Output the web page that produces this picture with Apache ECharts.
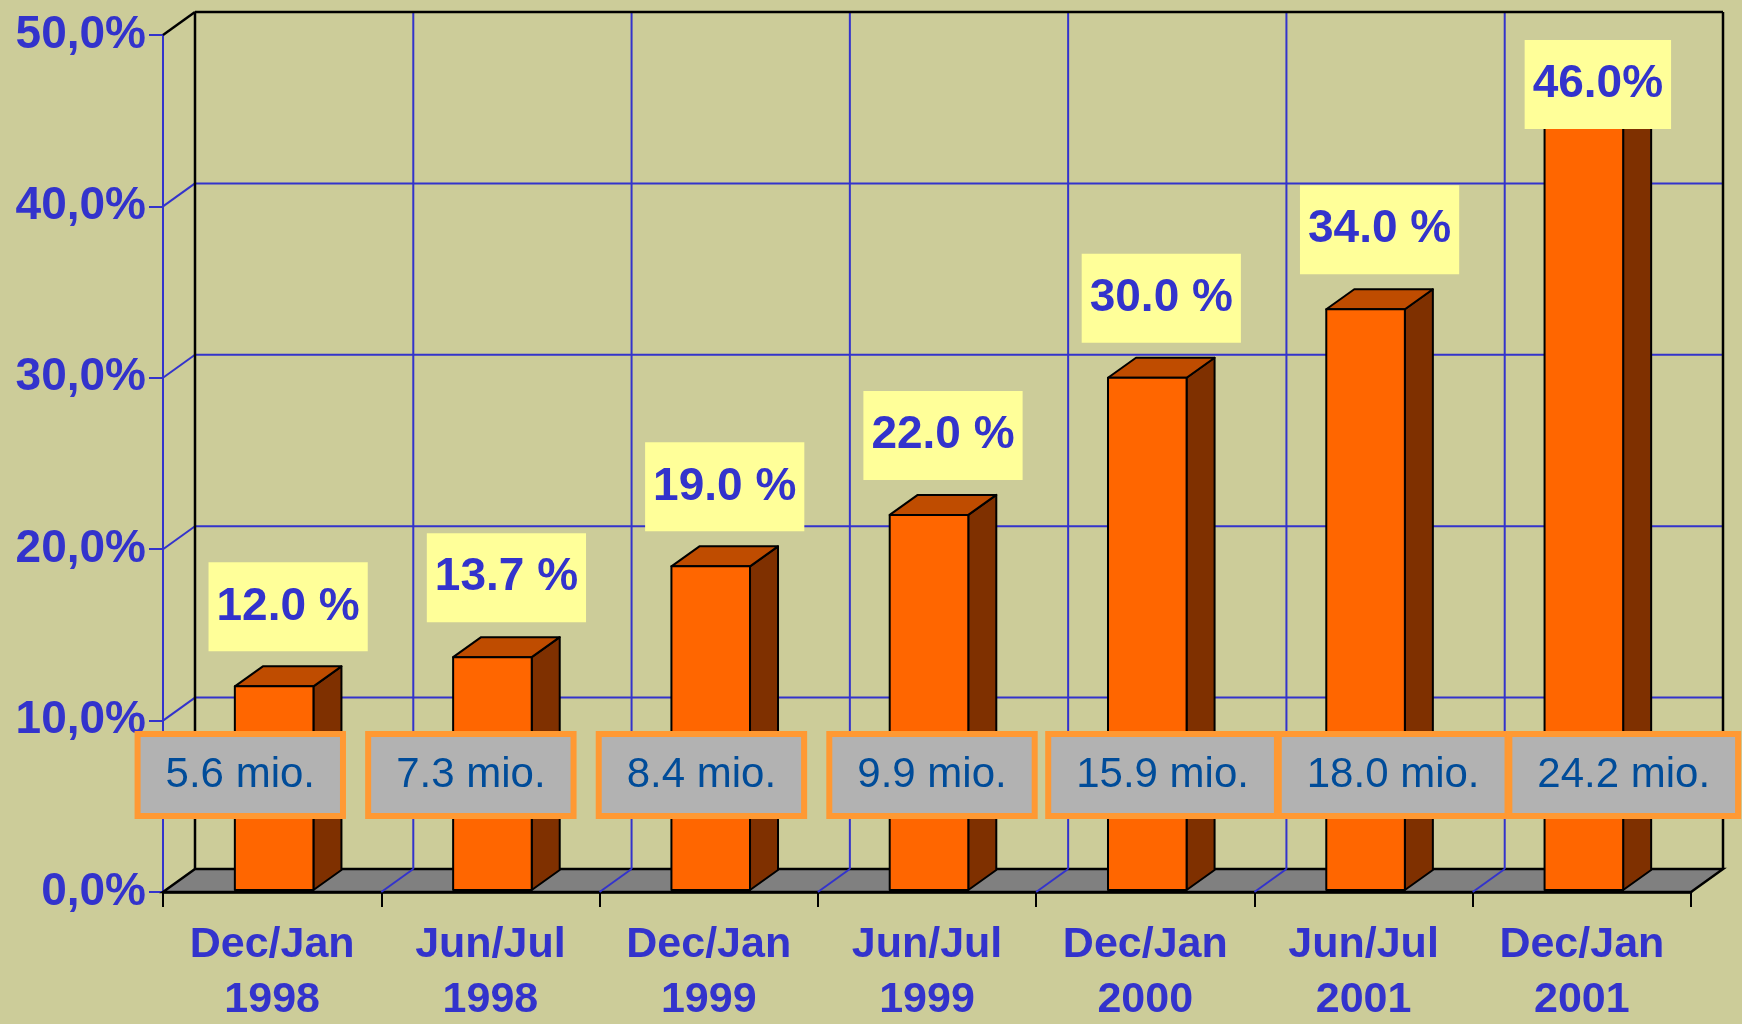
<!DOCTYPE html>
<html>
<head>
<meta charset="utf-8">
<title>Internet users share</title>
<script src="https://cdn.jsdelivr.net/npm/echarts@6/dist/echarts.min.js"></script>
<style>
  html, body { margin: 0; padding: 0; background: #CCCC99; }
  #chart { width: 1742px; height: 1024px; }
</style>
</head>
<body>
<div id="chart"></div>
<script>
// Datos del gráfico
const periods = ['Dec/Jan\n1998', 'Jun/Jul\n1998', 'Dec/Jan\n1999', 'Jun/Jul\n1999', 'Dec/Jan\n2000', 'Jun/Jul\n2001', 'Dec/Jan\n2001'];
const sharePct = [12.0, 13.7, 19.0, 22.0, 30.0, 34.0, 46.0];
const shareLabels = ['12.0 %', '13.7 %', '19.0 %', '22.0 %', '30.0 %', '34.0 %', '46.0%'];
const usersMio = [5.6, 7.3, 8.4, 9.9, 15.9, 18.0, 24.2];
const yTicks = [0, 10, 20, 30, 40, 50];

document.addEventListener("DOMContentLoaded", () => {
  const chart = echarts.init(document.getElementById("chart"));

  const BLUE = '#3333CC';
  const FONT = '"Liberation Sans", Arial, sans-serif';
  // profundidad de las paredes y de las barras (efecto 3D)
  const WALL_DX = 32, WALL_DY = -23;
  const BAR_DX = 28, BAR_DY = -20;

  const line = (x1, y1, x2, y2, color, w) => ({
    type: 'line',
    shape: { x1, y1, x2, y2 },
    style: { stroke: color, lineWidth: w || 2 }
  });

  // Suelo, paredes y cuadrícula
  function renderFrame(params, api) {
    const bw = api.size([1, 0])[0];
    const n = periods.length;
    const left = api.coord([0, 0])[0] - bw / 2;
    const right = api.coord([n - 1, 0])[0] + bw / 2;
    const yOf = v => api.coord([0, v])[1];
    const y0 = yOf(yTicks[0]);
    const yTop = yOf(yTicks[yTicks.length - 1]);
    const children = [];

    children.push({
      type: 'polygon',
      shape: { points: [[left, y0], [right, y0], [right + WALL_DX, y0 + WALL_DY], [left + WALL_DX, y0 + WALL_DY]] },
      style: { fill: '#808080', stroke: '#000', lineWidth: 2.5 }
    });

    yTicks.slice(1, -1).forEach(v => {
      const y = yOf(v);
      children.push(line(left, y, left + WALL_DX, y + WALL_DY, BLUE));
      children.push(line(left + WALL_DX, y + WALL_DY, right + WALL_DX, y + WALL_DY, BLUE));
    });

    for (let i = 1; i < n; i++) {
      const x = left + i * bw;
      children.push(line(x, y0, x + WALL_DX, y0 + WALL_DY, BLUE));
      children.push(line(x + WALL_DX, y0 + WALL_DY, x + WALL_DX, yTop + WALL_DY, BLUE));
    }

    children.push(line(left, yTop, left + WALL_DX, yTop + WALL_DY, '#000', 2.5));
    children.push(line(left + WALL_DX, yTop + WALL_DY, right + WALL_DX, yTop + WALL_DY, '#000', 2.5));
    children.push(line(left + WALL_DX, yTop + WALL_DY, left + WALL_DX, y0 + WALL_DY, '#000', 2.5));
    children.push(line(right + WALL_DX, yTop + WALL_DY, right + WALL_DX, y0 + WALL_DY, '#000', 2.5));

    return { type: 'group', children };
  }

  // Barras 3D
  function renderBar(params, api) {
    const i = api.value(0);
    const base = api.coord([i, 0]);
    const top = api.coord([i, api.value(1)]);
    const w = api.size([1, 0])[0] * 0.36;
    const x0 = base[0] - w / 2 + 2;
    const x1 = x0 + w;
    const yb = base[1] - 2;
    const yt = top[1];
    const st = { stroke: '#000', lineWidth: 2, lineJoin: 'round' };
    return {
      type: 'group',
      children: [
        { type: 'polygon', shape: { points: [[x1, yt], [x1 + BAR_DX, yt + BAR_DY], [x1 + BAR_DX, yb + BAR_DY], [x1, yb]] }, style: Object.assign({ fill: '#7F3000' }, st) },
        { type: 'polygon', shape: { points: [[x0, yt], [x0 + BAR_DX, yt + BAR_DY], [x1 + BAR_DX, yt + BAR_DY], [x1, yt]] }, style: Object.assign({ fill: '#BF4C00' }, st) },
        { type: 'rect', shape: { x: x0, y: yt, width: w, height: yb - yt }, style: Object.assign({ fill: '#FF6600' }, st) }
      ]
    };
  }

  // Etiquetas amarillas con el porcentaje
  function renderShareLabel(params, api) {
    const i = api.value(0);
    const top = api.coord([i, api.value(1)]);
    const boxH = 89;
    let bottom = top[1] + BAR_DY - 15;
    bottom = Math.max(bottom, params.coordSys.y + 5 + boxH);
    return {
      type: 'text',
      x: top[0] + 2 + BAR_DX / 2,
      y: bottom,
      style: {
        text: shareLabels[i],
        font: 'bold 46px ' + FONT,
        fill: BLUE,
        align: 'center',
        verticalAlign: 'bottom',
        backgroundColor: '#FFFF99',
        padding: [20, 8],
        lineHeight: 49
      }
    };
  }

  // Cajas grises con los millones de usuarios
  function renderUsers(params, api) {
    const i = api.value(0);
    const p = api.coord([i, 0]);
    return {
      type: 'text',
      x: p[0],
      y: p[1] - 117,
      style: {
        text: api.value(1).toFixed(1) + ' mio.',
        font: '42px ' + FONT,
        fill: '#004C99',
        align: 'center',
        verticalAlign: 'middle',
        backgroundColor: '#B2B2B2',
        borderColor: '#FF9933',
        borderWidth: 6,
        padding: [15, 25],
        lineHeight: 46
      }
    };
  }

  const option = {
    backgroundColor: '#CCCC99',
    animation: false,
    grid: [
      { left: 163, right: 51, top: 35, bottom: 132, outerBoundsMode: 'none' },
      { left: 125, right: 3, top: 35, bottom: 132, outerBoundsMode: 'none' }
    ],
    xAxis: [{
      type: 'category',
      gridIndex: 0,
      data: periods,
      axisLine: { show: true, lineStyle: { color: '#000', width: 2.5 } },
      axisTick: { show: true, length: 15, lineStyle: { color: '#000', width: 2 } },
      axisLabel: {
        color: BLUE, fontSize: 43, fontWeight: 'bold', fontFamily: FONT,
        lineHeight: 55, margin: 26, interval: 0
      },
      splitLine: { show: false }
    }, {
      type: 'category',
      gridIndex: 1,
      data: periods,
      show: false
    }],
    yAxis: [{
      type: 'value',
      gridIndex: 0,
      min: yTicks[0],
      max: yTicks[yTicks.length - 1],
      interval: yTicks[1] - yTicks[0],
      axisLine: { show: true, lineStyle: { color: BLUE, width: 2 } },
      axisTick: { show: true, length: 14, lineStyle: { color: BLUE, width: 2 } },
      axisLabel: {
        color: BLUE, fontSize: 46, fontWeight: 'bold', fontFamily: FONT, margin: 17,
        formatter: v => v.toFixed(1).replace('.', ',') + '%'
      },
      splitLine: { show: false }
    }, {
      type: 'value',
      gridIndex: 1,
      min: yTicks[0],
      max: yTicks[yTicks.length - 1],
      show: false
    }],
    series: [
      { type: 'custom', name: 'frame', z: 1, xAxisIndex: 0, yAxisIndex: 0, renderItem: renderFrame, data: [[0, 0]] },
      { type: 'custom', name: 'share', z: 2, xAxisIndex: 0, yAxisIndex: 0, renderItem: renderBar, data: sharePct.map((v, i) => [i, v]) },
      { type: 'custom', name: 'shareLabel', z: 3, xAxisIndex: 0, yAxisIndex: 0, renderItem: renderShareLabel, data: sharePct.map((v, i) => [i, v]) },
      { type: 'custom', name: 'users', z: 4, xAxisIndex: 1, yAxisIndex: 1, renderItem: renderUsers, data: usersMio.map((v, i) => [i, v]) }
    ]
  };

  chart.setOption(option);
  window.addEventListener("resize", () => chart.resize());
});
</script>
</body>
</html>
